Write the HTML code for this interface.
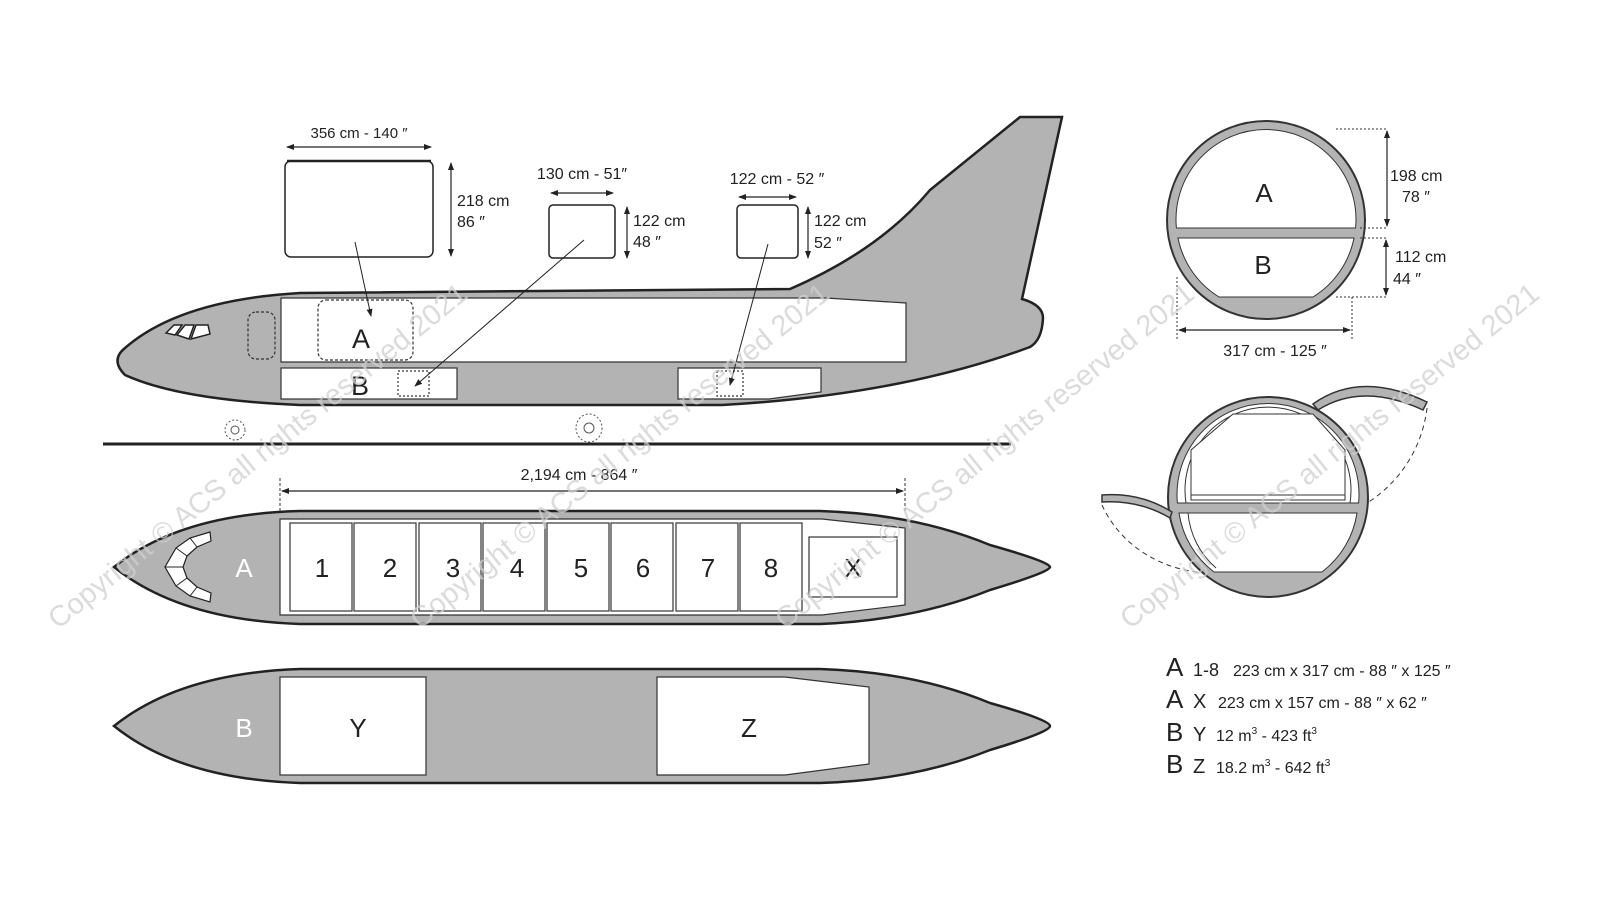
<!DOCTYPE html>
<html><head><meta charset="utf-8"><style>
html,body{margin:0;padding:0;background:#fff;}
svg{display:block;}
text{font-family:"Liberation Sans",sans-serif;fill:#222;}
.wm{font-size:29px;fill:#d0d0d0;opacity:0.75;}
</style></head><body>
<svg width="1600" height="900" viewBox="0 0 1600 900" xmlns="http://www.w3.org/2000/svg">
<defs>
<marker id="ah" markerWidth="8" markerHeight="8" refX="7" refY="4" orient="auto-start-reverse" markerUnits="userSpaceOnUse"><path d="M0,1 L8,4 L0,7 Z" fill="#222"/></marker>
</defs>

<!-- Side view -->
<path d="M300,293 L790,289 Q880,250 930,190 L1020,117 L1062,117 L1022,299 Q1043,305 1043,318 Q1042,340 1030,347 Q900,395 722,405 L300,405 Q180,400 125,375 Q110,360 125,348 Q180,300 300,293 Z" fill="#b3b3b3" stroke="#222" stroke-width="2.5"/>
<path d="M281,298 L826,298 L906,303 L906,362 L281,362 Z" fill="#fff" stroke="#333" stroke-width="1.2"/>
<rect x="281" y="368" width="176" height="31" fill="#fff" stroke="#333" stroke-width="1.2"/>
<path d="M678,368 L821,368 L821,392 L769,399 L678,399 Z" fill="#fff" stroke="#333" stroke-width="1.2"/>
<rect x="318" y="300" width="95" height="60" rx="8" fill="none" stroke="#333" stroke-width="1.2" stroke-dasharray="3,2"/>
<rect x="248" y="312" width="27" height="47" rx="8" fill="none" stroke="#333" stroke-width="1.2" stroke-dasharray="3,2"/>
<rect x="398" y="371" width="31" height="25" fill="none" stroke="#333" stroke-width="1.2" stroke-dasharray="2,2"/>
<rect x="717" y="371" width="26" height="25" fill="none" stroke="#333" stroke-width="1.2" stroke-dasharray="2,2"/>
<path d="M166,333 L174,325 L182,325 L175,335 Z" fill="#fff" stroke="#222" stroke-width="1.5"/>
<path d="M177,335 L185,325 L194,325 L189,339 Z" fill="#fff" stroke="#222" stroke-width="1.5"/>
<path d="M191,339 L196,325 L208,325 L210,334 Z" fill="#fff" stroke="#222" stroke-width="1.5"/>
<text x="361" y="348" font-size="27" text-anchor="middle">A</text>
<text x="360" y="395" font-size="27" text-anchor="middle">B</text>
<circle cx="235" cy="430" r="10" fill="none" stroke="#555" stroke-width="1" stroke-dasharray="2,2"/>
<circle cx="235" cy="430" r="4" fill="none" stroke="#555" stroke-width="1"/>
<ellipse cx="589" cy="428" rx="13" ry="14" fill="none" stroke="#555" stroke-width="1" stroke-dasharray="2,2"/>
<circle cx="589" cy="428" r="5" fill="none" stroke="#555" stroke-width="1"/>
<line x1="103" y1="444" x2="1011" y2="444" stroke="#222" stroke-width="3"/>

<!-- containers -->
<rect x="285" y="161" width="148" height="96" rx="6" fill="#fff" stroke="#222" stroke-width="1.5"/>
<line x1="287" y1="161" x2="431" y2="161" stroke="#222" stroke-width="2.5"/>
<line x1="287" y1="147" x2="431" y2="147" stroke="#222" stroke-width="1.2" marker-start="url(#ah)" marker-end="url(#ah)"/>
<text x="359" y="138" font-size="15" text-anchor="middle">356  cm - 140 ″</text>
<line x1="451" y1="163" x2="451" y2="256" stroke="#222" stroke-width="1.2" marker-start="url(#ah)" marker-end="url(#ah)"/>
<text x="457" y="206" font-size="16">218 cm</text>
<text x="457" y="227" font-size="16">86 ″</text>

<rect x="549" y="205" width="66" height="53" rx="4" fill="#fff" stroke="#222" stroke-width="1.5"/>
<line x1="551" y1="193" x2="613" y2="193" stroke="#222" stroke-width="1.2" marker-start="url(#ah)" marker-end="url(#ah)"/>
<text x="582" y="179" font-size="16" text-anchor="middle">130 cm - 51″</text>
<line x1="627" y1="207" x2="627" y2="258" stroke="#222" stroke-width="1.2" marker-start="url(#ah)" marker-end="url(#ah)"/>
<text x="633" y="226" font-size="16">122 cm</text>
<text x="633" y="247" font-size="16">48 ″</text>

<rect x="737" y="205" width="61" height="53" rx="4" fill="#fff" stroke="#222" stroke-width="1.5"/>
<line x1="739" y1="197" x2="796" y2="197" stroke="#222" stroke-width="1.2" marker-start="url(#ah)" marker-end="url(#ah)"/>
<text x="777" y="184" font-size="16" text-anchor="middle">122 cm - 52 ″</text>
<line x1="808" y1="207" x2="808" y2="258" stroke="#222" stroke-width="1.2" marker-start="url(#ah)" marker-end="url(#ah)"/>
<text x="814" y="226" font-size="16">122 cm</text>
<text x="814" y="248" font-size="16">52 ″</text>

<line x1="355" y1="242" x2="371" y2="316" stroke="#222" stroke-width="1" marker-end="url(#ah)"/>
<line x1="584" y1="240" x2="415" y2="386" stroke="#222" stroke-width="1" marker-end="url(#ah)"/>
<line x1="768" y1="244" x2="730" y2="385" stroke="#222" stroke-width="1" marker-end="url(#ah)"/>

<!-- Top view A -->
<line x1="280" y1="478" x2="280" y2="511" stroke="#333" stroke-dasharray="3,2"/>
<line x1="905" y1="478" x2="905" y2="511" stroke="#333" stroke-dasharray="3,2"/>
<line x1="282" y1="491" x2="903" y2="491" stroke="#222" stroke-width="1.2" marker-start="url(#ah)" marker-end="url(#ah)"/>
<text x="579" y="480" font-size="16" text-anchor="middle">2,194 cm - 864 ″</text>
<path d="M300,511 L820,511 Q915,514 990,545 Q1050,562 1050,567 Q1050,572 990,590 Q915,620 820,624 L300,624 Q180,620 114,567 Q180,514 300,511 Z" fill="#b3b3b3" stroke="#222" stroke-width="2.5"/>
<path d="M280,519 L822,519 L905,528 L905,605 L822,615 L280,615 Z" fill="#fff" stroke="#333" stroke-width="1.2"/>
<g fill="#fff" stroke="#333" stroke-width="1.2">
<rect x="290" y="523" width="62" height="88"/>
<rect x="354" y="523" width="62" height="88"/>
<rect x="419" y="523" width="62" height="88"/>
<rect x="483" y="523" width="62" height="88"/>
<rect x="547" y="523" width="62" height="88"/>
<rect x="611" y="523" width="62" height="88"/>
<rect x="676" y="523" width="62" height="88"/>
<rect x="740" y="523" width="62" height="88"/>
<rect x="809" y="537" width="88" height="60"/>
</g>
<g font-size="26" text-anchor="middle">
<text x="322" y="577">1</text><text x="390" y="577">2</text><text x="453" y="577">3</text><text x="517" y="577">4</text>
<text x="581" y="577">5</text><text x="643" y="577">6</text><text x="708" y="577">7</text><text x="771" y="577">8</text>
<text x="853" y="577">X</text>
</g>
<text x="244" y="577" font-size="26" text-anchor="middle" style="fill:#fff">A</text>
<path d="M210,532 L190,538 L176,548 L165,567 L176,586 L190,596 L210,602 L211,593 L197,587 L187,578 L183,567 L187,556 L197,547 L211,541 Z" fill="#fff" stroke="#222" stroke-width="1.2"/>
<g stroke="#222" stroke-width="1"><line x1="190" y1="538" x2="197" y2="547"/><line x1="176" y1="548" x2="187" y2="556"/><line x1="165" y1="567" x2="183" y2="567"/><line x1="176" y1="586" x2="187" y2="578"/><line x1="190" y1="596" x2="197" y2="587"/></g>

<!-- Top view B -->
<path d="M300,669 L820,669 Q915,672 990,703 Q1050,720 1050,726 Q1050,732 990,750 Q915,780 820,783 L300,783 Q180,779 114,726 Q180,673 300,669 Z" fill="#b3b3b3" stroke="#222" stroke-width="2.5"/>
<rect x="280" y="677" width="146" height="98" fill="#fff" stroke="#333" stroke-width="1.2"/>
<path d="M657,677 L785,677 L869,687 L869,764 L785,775 L657,775 Z" fill="#fff" stroke="#333" stroke-width="1.2"/>
<text x="244" y="737" font-size="26" text-anchor="middle" style="fill:#fff">B</text>
<text x="358" y="737" font-size="26" text-anchor="middle">Y</text>
<text x="749" y="737" font-size="26" text-anchor="middle">Z</text>

<!-- Cross section 1 -->
<circle cx="1266" cy="220" r="99" fill="#b3b3b3" stroke="#333" stroke-width="2"/>
<path d="M1176.4,228 A90,90 0 1 1 1355.6,228 Z" fill="#fff" stroke="#333" stroke-width="1"/>
<path d="M1178,238 L1354,238 A90,90 0 0 1 1313,297 L1219,297 A90,90 0 0 1 1178,238 Z" fill="#fff" stroke="#333" stroke-width="1"/>
<text x="1264" y="202" font-size="26" text-anchor="middle">A</text>
<text x="1263" y="274" font-size="26" text-anchor="middle">B</text>
<line x1="1336" y1="129" x2="1387" y2="129" stroke="#333" stroke-dasharray="2,2"/>
<line x1="1360" y1="228" x2="1387" y2="228" stroke="#333" stroke-dasharray="2,2"/>
<line x1="1360" y1="238" x2="1387" y2="238" stroke="#333" stroke-dasharray="2,2"/>
<line x1="1336" y1="297" x2="1387" y2="297" stroke="#333" stroke-dasharray="2,2"/>
<line x1="1387" y1="131" x2="1387" y2="226" stroke="#222" stroke-width="1.2" marker-start="url(#ah)" marker-end="url(#ah)"/>
<line x1="1386" y1="240" x2="1386" y2="295" stroke="#222" stroke-width="1.2" marker-start="url(#ah)" marker-end="url(#ah)"/>
<text x="1390" y="181" font-size="16">198 cm</text>
<text x="1402" y="202" font-size="16">78 ″</text>
<text x="1395" y="262" font-size="16">112 cm</text>
<text x="1393" y="284" font-size="16">44 ″</text>
<line x1="1177" y1="277" x2="1177" y2="340" stroke="#333" stroke-dasharray="2,2"/>
<line x1="1352" y1="297" x2="1352" y2="340" stroke="#333" stroke-dasharray="2,2"/>
<line x1="1179" y1="330" x2="1350" y2="330" stroke="#222" stroke-width="1.2" marker-start="url(#ah)" marker-end="url(#ah)"/>
<text x="1275" y="356" font-size="16" text-anchor="middle">317 cm - 125 ″</text>

<!-- Cross section 2 -->
<path d="M1427,408 A130,130 0 0 1 1367,503" fill="none" stroke="#333" stroke-dasharray="5,4"/>
<path d="M1102,505 A120,110 0 0 0 1210,573" fill="none" stroke="#333" stroke-dasharray="5,4"/>
<circle cx="1268" cy="497" r="100" fill="#b3b3b3" stroke="#333" stroke-width="2"/>
<path d="M1177.4,503 A91,91 0 1 1 1358.6,503 Z" fill="#fff" stroke="#333" stroke-width="1"/>
<path d="M1186,503 A83,83 0 1 1 1350,503" fill="none" stroke="#333" stroke-width="1"/>
<path d="M1191,495 L1191,450 L1233,414 L1313,414 L1345,450 L1345,495 Z" fill="#fff" stroke="#333" stroke-width="1"/>
<rect x="1191" y="495" width="154" height="5" fill="#fff" stroke="#333" stroke-width="1"/>
<path d="M1179,513 L1357,513 A91,91 0 0 1 1322,572 L1214,572 A91,91 0 0 1 1179,513 Z" fill="#fff" stroke="#333" stroke-width="1"/>
<path d="M1188,513 A82,82 0 0 0 1216,568" fill="none" stroke="#333" stroke-width="1"/>
<path d="M1313,404 Q1360,370 1427,402 L1423,410 Q1362,382 1318,410 Z" fill="#b3b3b3" stroke="#333" stroke-width="1.5"/>
<path d="M1102,495 Q1140,492 1172,512 L1170,518 Q1140,500 1102,502 Z" fill="#b3b3b3" stroke="#333" stroke-width="1.5"/>

<!-- Legend -->
<g>
<text x="1166" y="676" font-size="26">A</text><text x="1193" y="676" font-size="18">1-8</text><text x="1233" y="676" font-size="16">223 cm x 317 cm - 88 ″ x 125 ″</text>
<text x="1166" y="708" font-size="26">A</text><text x="1193" y="708" font-size="20">X</text><text x="1218" y="708" font-size="16">223 cm x 157 cm - 88 ″ x 62 ″</text>
<text x="1166" y="741" font-size="26">B</text><text x="1193" y="741" font-size="20">Y</text><text x="1216" y="741" font-size="16">12 m<tspan font-size="10" dy="-7">3</tspan><tspan dy="7"> - 423 ft</tspan><tspan font-size="10" dy="-7">3</tspan></text>
<text x="1166" y="773" font-size="26">B</text><text x="1193" y="773" font-size="20">Z</text><text x="1216" y="773" font-size="16">18.2 m<tspan font-size="10" dy="-7">3</tspan><tspan dy="7"> - 642 ft</tspan><tspan font-size="10" dy="-7">3</tspan></text>
</g>

<!-- watermarks on top -->
<g>
<text class="wm" transform="translate(58,630) rotate(-39)">Copyright © ACS all rights reserved 2021</text>
<text class="wm" transform="translate(420,630) rotate(-39)">Copyright © ACS all rights reserved 2021</text>
<text class="wm" transform="translate(785,630) rotate(-39)">Copyright © ACS all rights reserved 2021</text>
<text class="wm" transform="translate(1130,630) rotate(-39)">Copyright © ACS all rights reserved 2021</text>
</g>
</svg>
</body></html>
